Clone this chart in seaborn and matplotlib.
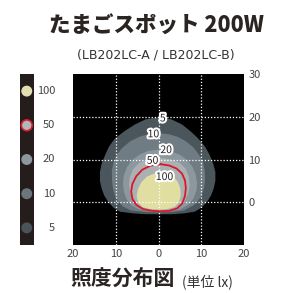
import numpy as np
import pandas as pd
import seaborn as sns
import matplotlib.pyplot as plt
import matplotlib.patheffects as pe

# illuminance levels (lx) and their fill colours
levels = [5, 10, 20, 50, 100]
level_colors = ["#4b565c", "#6f7c84", "#8d989e", "#abb0b3", "#e1dea2"]
red_line = "#d7192b"

# contour outlines (x, y in metres)
c5_x = [0, -3, -5.5, -8, -10.2, -11.6, -12.5, -13.3, -13.7, -13.7, -13.3, -12.7, -11.8, -10.5, -9, -6, -3, 0,
        3, 6, 8.5, 10, 11.3, 12.3, 12.9, 13.3, 13.3, 12.8, 12.0, 10.9, 9.3, 7.5, 5.5, 3]
c5_y = [19.9, 19.4, 18.2, 16.6, 14.9, 13, 11.0, 9, 7.1, 5, 3.2, 1.6, 0.1, -1.3, -2.2, -2.6, -2.8, -2.8,
        -2.8, -2.6, -2.2, -1.3, 0, 1.6, 3.2, 5, 7.1, 9, 11.0, 13, 14.9, 16.6, 18.2, 19.4]

c10_x = [0, -2.5, -4.5, -6.7, -8.6, -9.8, -10.5, -10.9, -10.9, -10.7, -10.2, -9.4, -8.3, -6.5, -3, 0,
         3, 6, 8.1, 9.3, 10.1, 10.7, 10.9, 10.8, 10.4, 9.4, 8.2, 6.5, 4.5, 2.5]
c10_y = [16.2, 15.9, 15.3, 14.2, 12.6, 11, 9.4, 7.5, 5.5, 3.5, 1.6, 0.2, -1.0, -1.9, -2.3, -2.4,
         -2.3, -1.9, -0.8, 0.4, 1.6, 3.5, 5.5, 7.5, 9.4, 11.2, 12.8, 14.2, 15.3, 15.9]

c20_x = [0, -2.5, -4.5, -6.2, -7.4, -8.1, -8.3, -8.1, -7.5, -6.4, -4.5, -2, 0,
         2.5, 5, 7, 8.2, 8.9, 9.0, 8.7, 8.0, 6.8, 5, 2.7]
c20_y = [12.3, 12.0, 11.1, 9.8, 8.2, 6.3, 4.4, 2.5, 0.8, -0.7, -1.7, -2.1, -2.2,
         -2.1, -1.7, -0.6, 0.9, 2.8, 4.6, 6.5, 8.2, 9.8, 11.1, 12.0]

c50_x = [0, -2.5, -4.5, -5.9, -6.7, -6.9, -6.6, -5.8, -4.3, -2, 0,
         2.5, 4.6, 6.1, 7.0, 7.3, 7.1, 6.4, 5, 2.7]
c50_y = [10.4, 10.1, 9.2, 7.8, 6, 4, 2, 0.2, -1.2, -1.9, -2.1,
         -2.0, -1.3, 0.2, 2, 4, 6, 7.8, 9.2, 10.1]

red_x = [0.5, -1.8, -3.8, -5.2, -6.1, -6.4, -6.1, -5.2, -3.6, -1.5, 0.5,
         2.5, 4.4, 5.6, 6.2, 6.4, 6.2, 5.5, 4.2, 2.5, 0.5]
red_y = [8.9, 8.6, 7.6, 6.1, 4.3, 2.5, 0.8, -0.6, -1.6, -2.0, -2.1,
         -2.0, -1.4, -0.2, 1.5, 3.3, 5.1, 6.7, 7.9, 8.6, 8.9]

c100_x = [1, -1, -2.7, -4, -4.8, -5.1, -4.8, -3.8, -2, 0, 2, 3.8, 4.8, 5.2, 5.1, 4.5, 3.5, 2.3]
c100_y = [6.9, 6.7, 6.0, 4.7, 3.1, 1.4, -0.1, -1.1, -1.6, -1.7, -1.6, -1.1, 0, 1.6, 3.3, 4.8, 6.0, 6.7]

# contour labels
label_text = ["5", "10", "20", "50", "100"]
label_x = [1.0, -1.2, 1.8, -1.4, 1.4]
label_y = [19.6, 15.9, 12.2, 9.7, 5.9]

# legend markers
legend_y = [26, 18, 10, 2, -6]
legend_text = ["100", "50", "20", "10", "5"]
legend_colors = ["#e3dfb2", "#b2b7ba", "#8d989e", "#6b767c", "#4a5358"]

xticks = [-20, -10, 0, 10, 20]
xtick_labels = ["20", "10", "0", "10", "20"]
yticks = [0, 10, 20, 30]
ytick_labels = ["0", "10", "20", "30"]

sns.set_style("white")
plt.rcParams["font.family"] = ["Noto Sans CJK JP", "DejaVu Sans"]

fig = plt.figure(figsize=(2.87, 2.93), dpi=100)
ax = fig.add_axes([73 / 287, 48 / 293, 171 / 287, 171 / 293])
ax.set_facecolor("black")

shapes = [(c5_x, c5_y), (c10_x, c10_y), (c20_x, c20_y), (c50_x, c50_y), (c100_x, c100_y)]
for (sx, sy), col in zip(shapes, level_colors):
    ax.fill(sx, sy, color=col, lw=0, zorder=1)
sns.lineplot(x=red_x, y=red_y, sort=False, color=red_line, lw=1.3, ax=ax, zorder=3, estimator=None)

ax.set_xlim(-20, 20)
ax.set_ylim(-10, 30)
for v in [-10, 0, 10]:
    ax.axvline(v, color="white", ls=(0, (1, 1.5)), lw=0.9, zorder=2)
for v in [0, 10, 20]:
    ax.axhline(v, color="white", ls=(0, (1, 1.5)), lw=0.9, zorder=2)

for t, x, y in zip(label_text, label_x, label_y):
    ax.text(x, y, t, ha="center", va="center", fontsize=7.5, color="#222222", zorder=5,
            path_effects=[pe.withStroke(linewidth=3, foreground="white")])

ax.set_xticks(xticks)
ax.set_xticklabels(xtick_labels)
ax.set_yticks(yticks)
ax.set_yticklabels(ytick_labels)
ax.yaxis.tick_right()
ax.tick_params(length=0, labelsize=8, colors="#444444", pad=3)
for s in ax.spines.values():
    s.set_visible(False)

# legend bar
lax = fig.add_axes([19.5 / 287, 48 / 293, 14.5 / 287, 171 / 293])
lax.set_facecolor("#251d1b")
leg = pd.DataFrame({"x": [0.5] * 5, "y": legend_y, "lab": legend_text})
sns.scatterplot(data=leg, x="x", y="y", hue="lab", palette=dict(zip(legend_text, legend_colors)),
                s=62, edgecolor=["none", red_line, "none", "none", "none"], linewidth=1.2,
                legend=False, ax=lax)
lax.set_xlim(0, 1)
lax.set_ylim(-10, 30)
lax.set_xticks([])
lax.set_yticks([])
lax.set_xlabel("")
lax.set_ylabel("")
for s in lax.spines.values():
    s.set_visible(False)
for t, y in zip(legend_text, legend_y):
    lax.text(2.45, y, t, ha="right", va="center", fontsize=8, color="#444444", clip_on=False)

fig.text(156 / 287, 1 - 26 / 293, "たまごスポット 200W", ha="center", va="center",
         fontsize=15.5, fontweight="heavy", color="#2a2422")
fig.text(156 / 287, 1 - 55 / 293, "(LB202LC-A / LB202LC-B)", ha="center", va="center",
         fontsize=9, color="#333333", family="DejaVu Sans")
fig.text(70 / 287, 1 - 278 / 293, "照度分布図", ha="left", va="center",
         fontsize=15, fontweight="bold", color="#2a2422")
fig.text(182 / 287, 1 - 282 / 293, "(単位 lx)", ha="left", va="center",
         fontsize=10, color="#333333")

fig.savefig("out.png", dpi=100)
